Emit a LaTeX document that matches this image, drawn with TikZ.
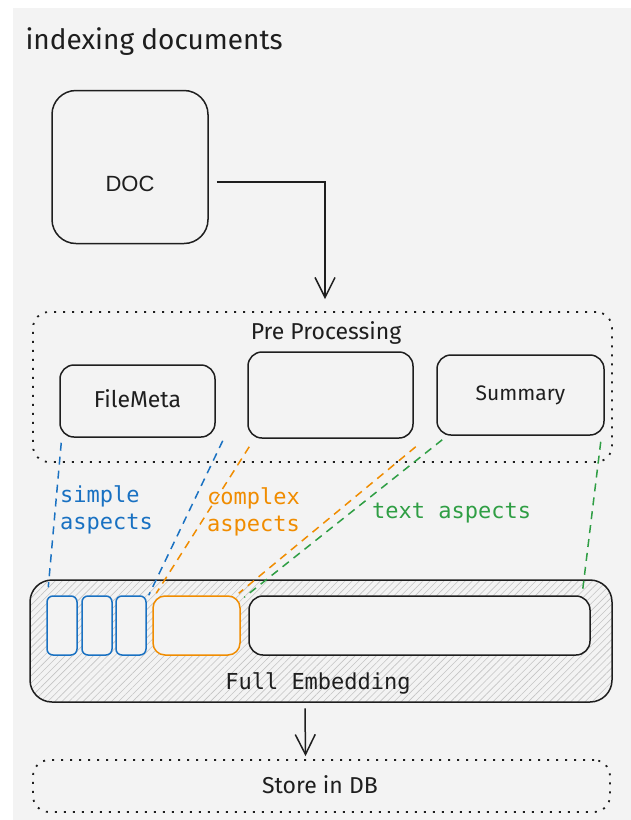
\documentclass[tikz,border=0pt]{standalone}
\usepackage{fontspec}
\setmainfont{Fira Sans}
\newfontfamily\handfont{Fira Sans}
\newfontfamily\docfont{Liberation Sans}
\newfontfamily\monofont{DejaVu Sans Mono}
\usetikzlibrary{arrows.meta,calc,patterns.meta}
\definecolor{bgc}{HTML}{F3F3F3}
\definecolor{ink}{HTML}{1E1E1E}
\definecolor{eblue}{HTML}{1971C2}
\definecolor{eorange}{HTML}{F08C00}
\definecolor{egreen}{HTML}{2F9E44}
\definecolor{hatch}{HTML}{C4C4C4}
\tikzset{
  box/.style={draw=ink,line width=1.5pt,rounded corners=14pt,inner sep=0pt},
  dotbox/.style={draw=ink,line width=1.8pt,dash pattern=on 2pt off 7pt,rounded corners=16pt,inner sep=0pt},
  slot/.style={line width=1.5pt,rounded corners=6pt,fill=bgc,inner sep=0pt},
  aspline/.style={line width=1.5pt,dash pattern=on 8pt off 6pt},
  flow/.style={draw=ink,line width=1.5pt,-{Straight Barb[length=20pt,width=20pt,line width=1.5pt]}},
  handtxt/.style={font=\handfont\fontsize{23}{27}\selectfont,text=ink},
  monotxt/.style={font=\monofont\fontsize{22}{27}\selectfont,align=left,inner sep=0pt}
}
\begin{document}
\begin{tikzpicture}[x=1pt,y=-1pt]
\useasboundingbox (0,0) rectangle (631,820);
\fill[bgc] (13,8) rectangle (631,820);

\node[anchor=west,font=\handfont\fontsize{28}{32}\selectfont,text=ink] (title) at (22,42) {indexing documents};

\node[box,rounded corners=24pt,minimum width=156pt,minimum height=153pt] (doc) at (130,167) {};
\node[font=\docfont\fontsize{22}{26}\selectfont,text=ink] (doctxt) at (130,184) {DOC};

\node[dotbox,minimum width=579pt,minimum height=150pt] (pre) at (322.5,387) {};
\node[handtxt] (pretxt) at (326,333) {Pre Processing};
\node[box,minimum width=155pt,minimum height=72pt] (filemeta) at (137.5,401) {};
\node[handtxt] (fmtxt) at (137.5,399) {FileMeta};
\node[box,minimum width=165pt,minimum height=86pt] (mid) at (330.5,395) {};
\node[box,minimum width=167pt,minimum height=80pt] (summary) at (520.5,395) {};
\node[handtxt,font=\handfont\fontsize{21}{25}\selectfont] (smtxt) at (520.5,395) {Summary};

\node[box,rounded corners=22pt,minimum width=582pt,minimum height=122pt,
      pattern={Lines[angle=45,distance=5pt,line width=0.6pt]},pattern color=hatch] (emb) at (321,641) {};
\node[slot,draw=eblue,minimum width=30pt,minimum height=59pt] (b1) at (62,625.5) {};
\node[slot,draw=eblue,minimum width=30pt,minimum height=59pt] (b2) at (97,625.5) {};
\node[slot,draw=eblue,minimum width=30pt,minimum height=59pt] (b3) at (131,625.5) {};
\node[slot,draw=eorange,rounded corners=12pt,minimum width=87pt,minimum height=59pt] (ob) at (196.5,625.5) {};
\node[slot,draw=ink,rounded corners=14pt,minimum width=341pt,minimum height=59pt] (tb) at (419.5,625.5) {};
\node[monotxt,text=ink] (embtxt) at (318,683) {Full Embedding};

\node[dotbox,minimum width=577pt,minimum height=52pt] (store) at (321.5,786) {};
\node[handtxt] (storetxt) at (320,785) {Store in DB};

% aspect lines
\draw[aspline,draw=eblue] ([xshift=2pt,yshift=-5pt]filemeta.south west) -- ([xshift=2pt,yshift=8pt]b1.north west);
\draw[aspline,draw=eblue] ([xshift=7pt,yshift=-3pt]filemeta.south east) -- ([xshift=2pt]b3.north east);
\draw[aspline,draw=eorange] ([xshift=2pt,yshift=-8pt]mid.south west) -- ([xshift=4pt,yshift=2pt]ob.north west);
\draw[aspline,draw=eorange] ([xshift=2pt,yshift=-8pt]mid.south east) -- ([xshift=-2pt,yshift=2pt]ob.north east);
\draw[aspline,draw=egreen] ([xshift=6pt,yshift=-4pt]summary.south west) -- ([xshift=-4pt,yshift=-2pt]tb.north west);
\draw[aspline,draw=egreen] ([xshift=-4pt,yshift=-6pt]summary.south east) -- ([xshift=-8pt,yshift=6pt]tb.north east);

\node[monotxt,text=eblue,anchor=north west] (simple) at (60,485) {simple\\aspects};
\node[monotxt,text=eorange,anchor=north west] (complex) at (207,487) {complex\\aspects};
\node[monotxt,text=egreen,anchor=west] (textasp) at (372,513) {text aspects};

% flows
\draw[flow] ($(doc.east)+(8,15)$) -| ([xshift=2.5pt,yshift=12pt]pre.north);
\draw[flow] ([xshift=-16pt,yshift=-6pt]emb.south) -- ([xshift=-16pt,yshift=3pt]store.north);
\end{tikzpicture}
\end{document}
